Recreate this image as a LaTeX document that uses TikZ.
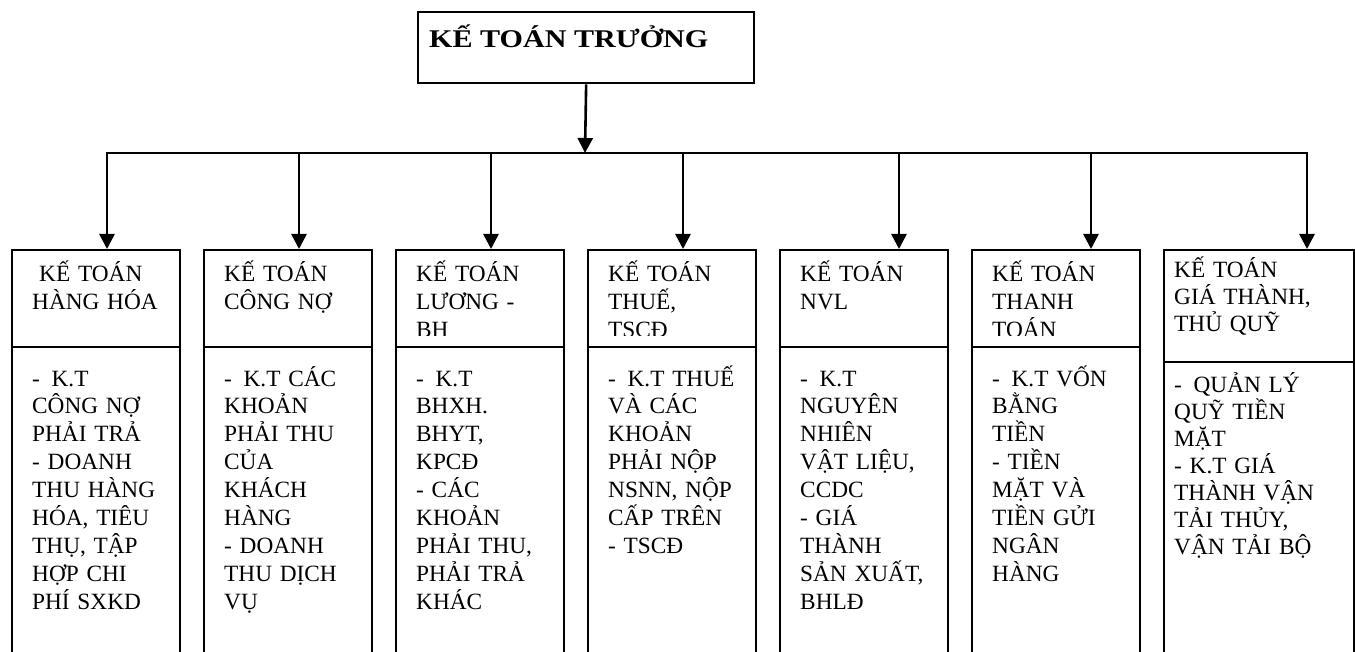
\documentclass[tikz,border=0pt]{standalone}
\usepackage{fontspec}
\setmainfont{Liberation Serif}
\usetikzlibrary{arrows.meta}

\begin{document}
\begin{tikzpicture}[x=1pt,y=-1pt,
  frame/.style={draw, line width=2.3pt, inner sep=0pt, anchor=north west},
  headbox/.style={frame, minimum width=168pt, minimum height=97pt},
  bodybox/.style={frame, minimum width=168pt, minimum height=400pt},
  link/.style={line width=2.6pt},
  bar/.style={link, line cap=rect},
  arr/.style={link, -{Triangle[width=15pt,length=15pt]}},
  lbl/.style={anchor=base west, inner sep=0pt, align=left, text width=165pt,
    font=\fontsize{23.3}{27.9}\selectfont},
  lblb/.style={lbl, font=\fontsize{23.3}{27}\selectfont},
  title/.style={anchor=base west, inner sep=0pt, font=\bfseries\fontsize{25.5}{28}\selectfont},
]
\clip (0,0) rectangle (1355,652);

% chief accountant
\node[frame, minimum width=336pt, minimum height=71pt] (ktt) at (417,11) {};
\node[title] (ktt-t) at (429,48) {\scalebox{1.18}[1]{KẾ TOÁN TRƯỞNG}};

% column frames: header over an open-ended body
\node[headbox] (h1) at (11,249) {};
\node[bodybox] (d1) at (11,346) {};
\node[headbox] (h2) at (203,249) {};
\node[bodybox] (d2) at (203,346) {};
\node[headbox] (h3) at (395,249) {};
\node[bodybox] (d3) at (395,346) {};
\node[headbox] (h4) at (587,249) {};
\node[bodybox] (d4) at (587,346) {};
\node[headbox] (h5) at (779,249) {};
\node[bodybox] (d5) at (779,346) {};
\node[headbox] (h6) at (971,249) {};
\node[bodybox] (d6) at (971,346) {};
\node[headbox, minimum width=190pt, minimum height=112pt] (h7) at (1163,249) {};
\node[bodybox, minimum width=190pt] (d7) at (1163,361) {};

% header titles (cut off at the bottom margin of the header)
\begin{scope}
  \clip (11,249) rectangle (1160,336);
  \node[lbl] (t1) at (32,282) {\hspace*{7pt}KẾ TOÁN\\HÀNG HÓA};
  \node[lbl] (t2) at (224,282) {KẾ TOÁN\\CÔNG NỢ};
  \node[lbl] (t3) at (416,282) {KẾ TOÁN\\LƯƠNG -\\BH};
  \node[lbl] (t4) at (608,282) {KẾ TOÁN\\THUẾ,\\TSCĐ};
  \node[lbl] (t5) at (800,282) {KẾ TOÁN\\NVL};
  \node[lbl] (t6) at (992,282) {KẾ TOÁN\\THANH\\TOÁN};
\end{scope}
\node[lblb] (t7) at (1174,278) {KẾ TOÁN\\GIÁ THÀNH,\\THỦ QUỸ};

% duties
\node[lbl] (s1) at (32,386) {-\enspace K.T\\CÔNG NỢ\\PHẢI TRẢ\\- DOANH\\THU HÀNG\\HÓA, TIÊU\\THỤ, TẬP\\HỢP CHI\\PHÍ SXKD};
\node[lbl] (s2) at (224,386) {-\enspace K.T CÁC\\KHOẢN\\PHẢI THU\\CỦA\\KHÁCH\\HÀNG\\- DOANH\\THU DỊCH\\VỤ};
\node[lbl] (s3) at (416,386) {-\enspace K.T\\BHXH.\\BHYT,\\KPCĐ\\- CÁC\\KHOẢN\\PHẢI THU,\\PHẢI TRẢ\\KHÁC};
\node[lbl] (s4) at (608,386) {-\enspace K.T THUẾ\\VÀ CÁC\\KHOẢN\\PHẢI NỘP\\NSNN, NỘP\\CẤP TRÊN\\- TSCĐ};
\node[lbl] (s5) at (800,386) {-\enspace K.T\\NGUYÊN\\NHIÊN\\VẬT LIỆU,\\CCDC\\- GIÁ\\THÀNH\\SẢN XUẤT,\\BHLĐ};
\node[lbl] (s6) at (992,386) {-\enspace K.T VỐN\\BẰNG\\TIỀN\\- TIỀN\\MẶT VÀ\\TIỀN GỬI\\NGÂN\\HÀNG};
\node[lblb] (s7) at (1174,392) {-\enspace QUẢN LÝ\\QUỸ TIỀN\\MẶT\\- K.T GIÁ\\THÀNH VẬN\\TẢI THỦY,\\VẬN TẢI BỘ};

% distribution bar
\coordinate (hub) at (585,153);
\coordinate (b1) at (107,153);
\coordinate (b2) at (299,153);
\coordinate (b3) at (491,153);
\coordinate (b4) at (683,153);
\coordinate (b5) at (899,153);
\coordinate (b6) at (1091,153);
\coordinate (b7) at (1307,153);

\draw[bar] (b1) -- (b7);
\draw[arr] (ktt.south) -- (hub);
\foreach \i in {1,...,7}
  \draw[arr] (b\i) -- (b\i |- h\i.north);
\end{tikzpicture}
\end{document}
